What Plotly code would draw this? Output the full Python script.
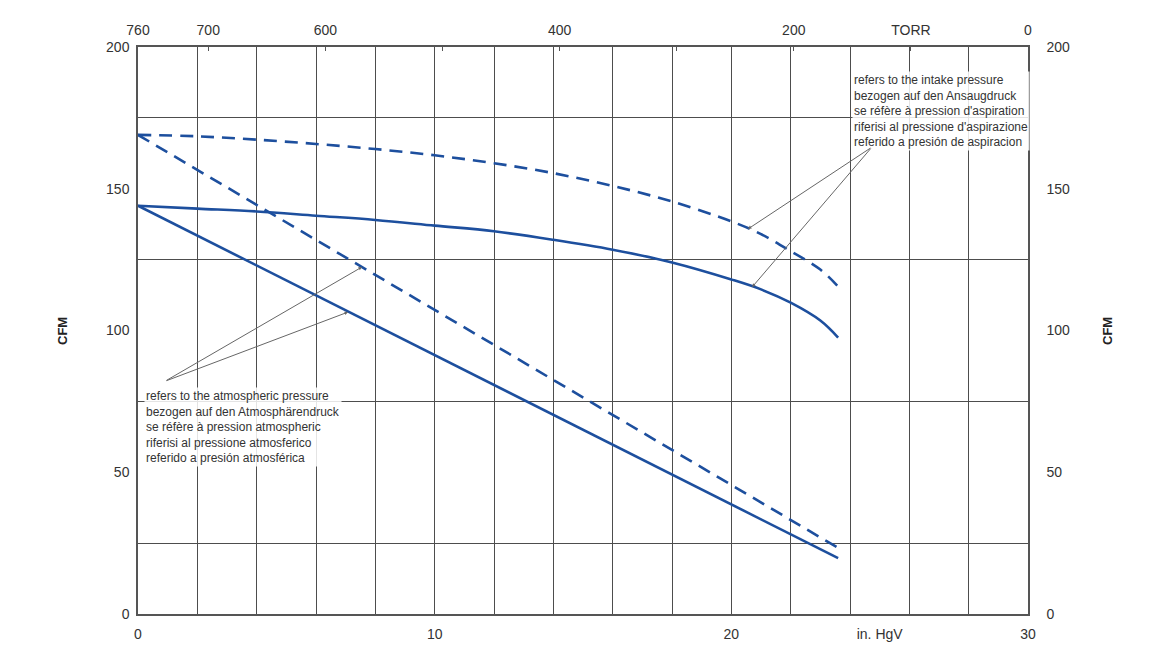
import plotly.graph_objects as go

# in. HgV (vacuum) on the bottom axis
x_intake = [0, 2, 4, 6, 8, 10, 12, 14, 16, 18, 20, 21, 22, 23, 23.6]
cfm_intake_solid = [144, 143, 142, 140.5, 139, 137, 135, 132, 128.5, 124, 118, 114.5, 109.8, 103.5, 97.5]
cfm_intake_dash = [169, 168.5, 167.3, 165.8, 164, 161.8, 159, 155.5, 151, 145.5, 138.5, 134, 128, 121.5, 115.5]

x_atm = [0, 23.6]
cfm_atm_solid = [144, 19.7]
cfm_atm_dash = [169, 23.3]

x_ticks = [0, 10, 20, 25, 30]
x_ticktext = ['0', '10', '20', 'in. HgV', '30']
torr_ticks = [760, 700, 600, 500, 400, 300, 200, 100, 0]
torr_ticktext = ['760', '700', '600', '', '400', '', '200', 'TORR', '0']

intake_text = ('refers to the intake pressure<br>bezogen auf den Ansaugdruck<br>'
               'se réfère à pression d\'aspiration<br>riferisi al pressione d\'aspirazione<br>'
               'referido a presión de aspiracion')
atm_text = ('refers to the atmospheric pressure<br>bezogen auf den Atmosphärendruck<br>'
            'se réfère à pression atmospheric<br>riferisi al pressione atmosferico<br>'
            'referido a presión atmosférica')

# leader lines: (from, to) in data coords
intake_leaders = [((24.74, 164.7), (20.56, 135.8)), ((24.74, 164.7), (20.70, 115.3))]
atm_leaders = [((0.91, 82.1), (7.55, 122.4)), ((0.91, 82.1), (7.08, 106.5))]

BLUE = '#1d4f9e'
GRID = '#4d4d4d'
FONT = 'Liberation Sans, Arial, sans-serif'

fig = go.Figure()
fig.add_trace(go.Scatter(x=x_intake, y=cfm_intake_dash, mode='lines',
                         line=dict(color=BLUE, width=2.6, dash='13px,8px', shape='spline')))
fig.add_trace(go.Scatter(x=x_intake, y=cfm_intake_solid, mode='lines',
                         line=dict(color=BLUE, width=2.6, shape='spline')))
fig.add_trace(go.Scatter(x=x_atm, y=cfm_atm_dash, mode='lines',
                         line=dict(color=BLUE, width=2.6, dash='13px,8px')))
fig.add_trace(go.Scatter(x=x_atm, y=cfm_atm_solid, mode='lines',
                         line=dict(color=BLUE, width=2.6)))
# dummy trace so the TORR / right axes get drawn
fig.add_trace(go.Scatter(x=[760, 0], y=[0, 0], xaxis='x2', yaxis='y2', mode='markers',
                         marker=dict(opacity=0), hoverinfo='skip'))

tickfont = dict(family=FONT, size=14, color='#333')

fig.update_layout(
    width=1149, height=662,
    margin=dict(l=130, r=129, t=39, b=56),
    paper_bgcolor='white', plot_bgcolor='white',
    showlegend=False,
    xaxis=dict(range=[0, 30], tickvals=x_ticks, ticktext=x_ticktext, showgrid=False,
               zeroline=False, showline=True, linecolor='#555', linewidth=1.5, mirror=False,
               ticks='', tickfont=tickfont, ticklabelstandoff=6,
               minor=dict(tickvals=list(range(0, 31, 2)), showgrid=True, gridcolor=GRID, gridwidth=1)),
    xaxis2=dict(range=[760, 0], overlaying='x', side='top', anchor='y2', tickvals=torr_ticks,
                ticktext=torr_ticktext, showgrid=False, zeroline=False, showline=True,
                linecolor='#555', linewidth=1.5, ticks='inside', ticklen=4, tickcolor='#555',
                tickfont=tickfont, ticklabelstandoff=5),
    yaxis=dict(range=[0, 200], dtick=50, showgrid=False, zeroline=False, showline=True,
               linecolor='#555', linewidth=1.5, ticks='', tickfont=tickfont, ticklabelstandoff=4,
               minor=dict(dtick=25, showgrid=True, gridcolor=GRID, gridwidth=1)),
    yaxis2=dict(range=[0, 200], dtick=50, overlaying='y', side='right', anchor='x',
                showgrid=False, zeroline=False, showline=True, linecolor='#555', linewidth=1.5,
                ticks='', tickfont=tickfont, ticklabelstandoff=14),
)

ann_font = dict(family=FONT, size=12, color='#333')
fig.add_annotation(x=24.07, y=191.5, xref='x', yref='y', text=intake_text, showarrow=False,
                   xanchor='left', yanchor='top', align='left', font=ann_font,
                   bgcolor='rgba(255,255,255,0.85)', borderpad=1)
fig.add_annotation(x=0.2, y=80.2, xref='x', yref='y', text=atm_text, showarrow=False,
                   xanchor='left', yanchor='top', align='left', font=ann_font,
                   bgcolor='rgba(255,255,255,0.85)', borderpad=1)

for (x0, y0), (x1, y1) in intake_leaders + atm_leaders:
    fig.add_annotation(x=x1, y=y1, ax=x0, ay=y0, xref='x', yref='y', axref='x', ayref='y',
                       text='', showarrow=True, arrowhead=2, arrowsize=0.7, arrowwidth=1,
                       arrowcolor='#666', standoff=0, startstandoff=0)

# side titles, placed by screen pixel (plot area spans x 138..1028, y 47..614)
cfm_font = dict(family=FONT, size=13, color='#222', weight='bold')
for px in (62, 1107):
    fig.add_annotation(x=(px - 138) / 890, y=(614 - 331) / 567, xref='paper', yref='paper',
                       text='CFM', showarrow=False, textangle=-90, font=cfm_font,
                       xanchor='center', yanchor='middle')

fig.write_html('out.html')
